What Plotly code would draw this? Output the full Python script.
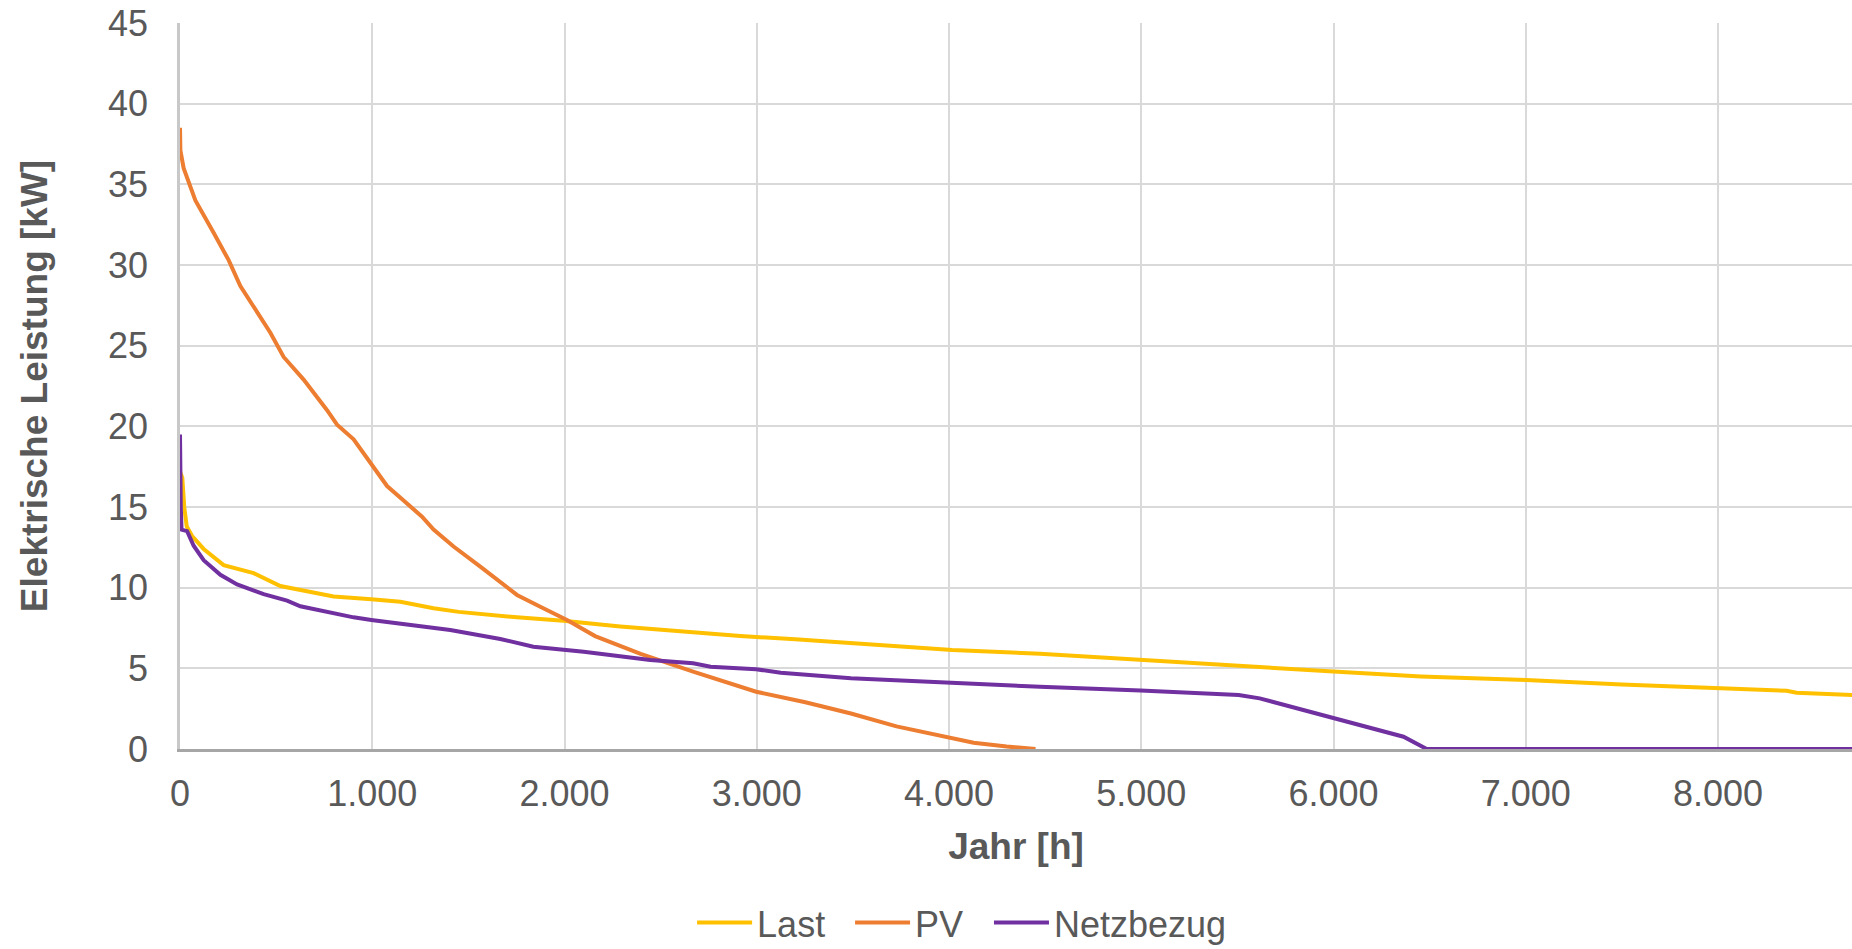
import plotly.graph_objects as go

# Jahresdauerlinien (sortierte Stundenwerte) – Last, PV-Erzeugung und Netzbezug
last_h = [0, 12, 22, 35, 63, 123, 227, 383, 522, 661, 799, 995, 1146, 1319, 1450,
          1753, 1994, 2290, 2600, 2915, 3200, 3490, 4017, 4473, 4996, 5543, 5999,
          6455, 7002, 7500, 8001, 8357, 8409, 8760]
last_kw = [17.2, 16.8, 15.0, 13.8, 13.2, 12.4, 11.4, 10.9, 10.1, 9.75, 9.45, 9.28,
           9.13, 8.72, 8.5, 8.16, 7.95, 7.6, 7.3, 7.0, 6.8, 6.55, 6.14, 5.9, 5.52,
           5.1, 4.8, 4.5, 4.28, 4.0, 3.76, 3.61, 3.49, 3.32]

pv_h = [0, 2, 19, 80, 175, 253, 314, 383, 470, 539, 643, 765, 817, 903, 990, 1077,
        1163, 1259, 1319, 1423, 1562, 1666, 1753, 1874, 2013, 2159, 2396, 2669,
        2997, 3253, 3490, 3727, 3928, 4128, 4300, 4450]
pv_kw = [38.5, 37.1, 36.0, 34.0, 32.0, 30.3, 28.7, 27.4, 25.8, 24.3, 22.9, 21.0,
         20.1, 19.2, 17.7, 16.3, 15.4, 14.4, 13.6, 12.55, 11.3, 10.37, 9.55, 8.82,
         8.0, 7.0, 5.9, 4.8, 3.55, 2.9, 2.2, 1.4, 0.87, 0.39, 0.15, 0.0]

netz_h = [0, 1, 4, 8, 37, 71, 123, 210, 297, 435, 557, 626, 730, 903, 995, 1146,
          1406, 1666, 1838, 2100, 2446, 2669, 2760, 2997, 3125, 3490, 4017, 4266,
          4473, 4996, 5507, 5616, 5999, 6364, 6485, 8760]
netz_kw = [19.5, 16.8, 15.0, 13.6, 13.5, 12.6, 11.7, 10.8, 10.2, 9.6, 9.2, 8.85,
           8.57, 8.16, 8.0, 7.79, 7.38, 6.82, 6.34, 6.03, 5.52, 5.31, 5.1, 4.94,
           4.73, 4.38, 4.07, 3.97, 3.86, 3.62, 3.35, 3.14, 1.9, 0.76, 0.0, 0.0]

x_ticks = [0, 1000, 2000, 3000, 4000, 5000, 6000, 7000, 8000]
y_ticks = [0, 5, 10, 15, 20, 25, 30, 35, 40, 45]

FONT = "Liberation Sans, Arial, sans-serif"
TXT = "#595959"
LW = 4

fig = go.Figure()
fig.add_trace(go.Scatter(x=last_h, y=last_kw, mode="lines", name="Last",
                         line=dict(color="#FFC000", width=LW), legend="legend"))
fig.add_trace(go.Scatter(x=pv_h, y=pv_kw, mode="lines", name="PV",
                         line=dict(color="#ED7D31", width=LW), legend="legend2"))
fig.add_trace(go.Scatter(x=netz_h, y=netz_kw, mode="lines", name="Netzbezug",
                         line=dict(color="#7030A0", width=LW), legend="legend3"))


def legend_box(xpos):
    # one legend entry per box, laid out side by side along the bottom of the figure
    return dict(orientation="h", x=xpos, xanchor="left", xref="container",
                y=0.0278, yanchor="middle", yref="container",
                font=dict(size=36, color=TXT), bgcolor="rgba(0,0,0,0)",
                itemwidth=55)


fig.update_layout(
    width=1852, height=949,
    margin=dict(l=180, r=0, t=23, b=200, autoexpand=False),
    paper_bgcolor="white", plot_bgcolor="white",
    separators=",.",
    font=dict(family=FONT, size=36, color=TXT),
    showlegend=True,
    legend=legend_box(0.3737),
    legend2=legend_box(0.4590),
    legend3=legend_box(0.5340),
    xaxis=dict(
        range=[0, 8697], tickvals=x_ticks, tickformat=",d",
        showgrid=True, gridcolor="#D9D9D9", gridwidth=2,
        showline=True, linecolor="#A6A6A6", linewidth=3,
        zeroline=False, layer="below traces",
        ticks="outside", ticklen=11, tickcolor="rgba(0,0,0,0)",
        tickfont=dict(size=36, color=TXT),
        title=dict(text="<b>Jahr [h]</b>", font=dict(size=37, color=TXT), standoff=20),
    ),
    yaxis=dict(
        range=[0, 45], tickvals=y_ticks,
        showgrid=True, gridcolor="#D9D9D9", gridwidth=2,
        showline=True, linecolor="#C8C8C8", linewidth=2.5,
        zeroline=False, layer="below traces",
        ticks="outside", ticklen=22, tickcolor="rgba(0,0,0,0)",
        tickfont=dict(size=36, color=TXT),
        title=dict(text="<b>Elektrische Leistung [kW]</b>", font=dict(size=37, color=TXT),
                   standoff=50),
    ),
)

fig.write_html("out.html")
